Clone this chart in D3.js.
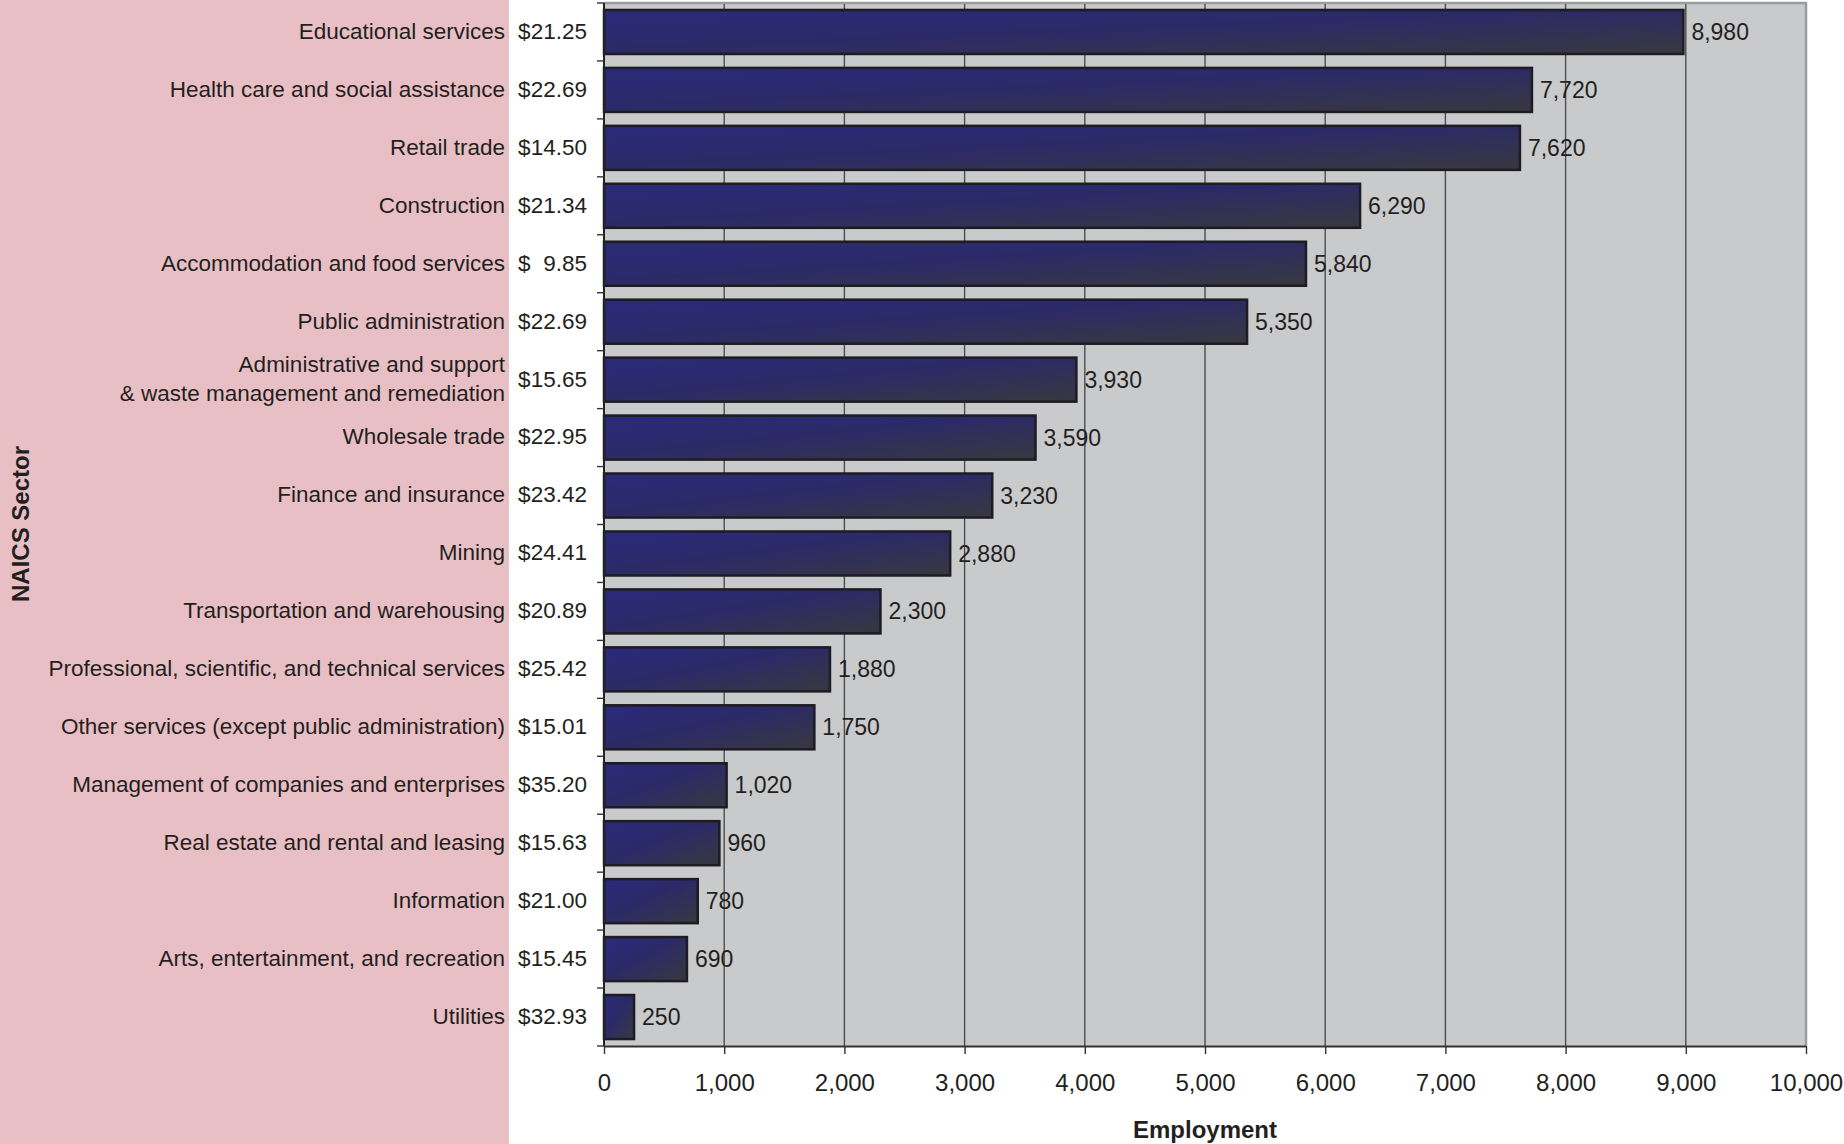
<!DOCTYPE html>
<html><head><meta charset="utf-8">
<script src="https://cdn.jsdelivr.net/npm/d3@7"></script>
<style>
html,body{margin:0;padding:0;background:#fff;}
svg{display:block;font-family:"Liberation Sans",Arial,sans-serif;}
</style></head>
<body>
<svg id="chart" width="1844" height="1144"></svg>
<script>
const categories = [
  ["Educational services"],
  ["Health care and social assistance"],
  ["Retail trade"],
  ["Construction"],
  ["Accommodation and food services"],
  ["Public administration"],
  ["Administrative and support", "& waste management and remediation"],
  ["Wholesale trade"],
  ["Finance and insurance"],
  ["Mining"],
  ["Transportation and warehousing"],
  ["Professional, scientific, and technical services"],
  ["Other services (except public administration)"],
  ["Management of companies and enterprises"],
  ["Real estate and rental and leasing"],
  ["Information"],
  ["Arts, entertainment, and recreation"],
  ["Utilities"]
];
const wages = ["21.25","22.69","14.50","21.34","9.85","22.69","15.65","22.95","23.42","24.41","20.89","25.42","15.01","35.20","15.63","21.00","15.45","32.93"];
const employment = [8980,7720,7620,6290,5840,5350,3930,3590,3230,2880,2300,1880,1750,1020,960,780,690,250];
const xTicks = [0,1000,2000,3000,4000,5000,6000,7000,8000,9000,10000];

const svg = d3.select("#chart");
const W = 1844, H = 1144;
const plot = {left: 604, right: 1806, top: 3, bottom: 1046};
const textColor = "#231f20";

// pink panel
svg.append("rect").attr("x",0).attr("y",0).attr("width",509).attr("height",H).attr("fill","#e9bfc6");

const x = d3.scaleLinear().domain([0,10000]).range([plot.left, plot.right]);
const idx = d3.range(categories.length);
const y = d3.scaleBand().domain(idx).range([plot.top, plot.bottom]).paddingInner(0.24).paddingOuter(0.12);
const yb = d3.scaleBand().domain(idx).range([plot.top, plot.bottom]);

// plot background
svg.append("rect").attr("x",plot.left).attr("y",plot.top).attr("width",plot.right-plot.left).attr("height",plot.bottom-plot.top).attr("fill","#c9cacc");

// border top/right
svg.append("path").attr("d",`M${plot.left},${plot.top}H${plot.right}V${plot.bottom}`).attr("fill","none").attr("stroke","#9b9c9e").attr("stroke-width",2.5);

// gridlines
svg.append("g").selectAll("line").data(xTicks.slice(1,-1)).join("line")
  .attr("x1",d=>x(d)).attr("x2",d=>x(d)).attr("y1",plot.top+1).attr("y2",plot.bottom)
  .attr("stroke","#4d4d4f").attr("stroke-width",1.4);

// gradient
const defs = svg.append("defs");
const grad = defs.append("linearGradient").attr("id","barGrad").attr("x1",0).attr("y1",0).attr("x2",1).attr("y2",1);
grad.append("stop").attr("offset","0%").attr("stop-color","#2a2a7a");
grad.append("stop").attr("offset","45%").attr("stop-color","#2b2a68");
grad.append("stop").attr("offset","100%").attr("stop-color","#38383e");

// bars
svg.append("g").selectAll("rect").data(idx).join("rect")
  .attr("x",x(0)).attr("y",i=>y(i))
  .attr("width",i=>x(employment[i])-x(0)).attr("height",y.bandwidth())
  .attr("fill","url(#barGrad)").attr("stroke","#1e1c22").attr("stroke-width",2.5);

// value labels
svg.append("g").selectAll("text").data(idx).join("text")
  .attr("x",i=>x(employment[i])+8).attr("y",i=>yb(i)+yb.bandwidth()/2)
  .attr("dy","0.35em").attr("font-size",23).attr("fill",textColor)
  .text(i=>d3.format(",")(employment[i]));

// x axis
const xAxis = d3.axisBottom(x).tickValues(xTicks).tickFormat(d3.format(",")).tickSize(8).tickPadding(20);
const gx = svg.append("g").attr("transform",`translate(0,${plot.bottom})`).call(xAxis);
gx.select(".domain").attr("stroke","#333").attr("stroke-width",2).attr("d",`M${plot.left},0.5H${plot.right}`);
gx.selectAll(".tick line").attr("stroke","#333").attr("stroke-width",1.4);
gx.selectAll(".tick text").attr("font-size",24).attr("fill",textColor).attr("font-family","Liberation Sans, Arial, sans-serif");

// y axis line and ticks at band boundaries
svg.append("line").attr("x1",plot.left).attr("x2",plot.left).attr("y1",plot.top).attr("y2",plot.bottom).attr("stroke","#222").attr("stroke-width",2);
svg.append("g").selectAll("line").data(d3.range(categories.length+1)).join("line")
  .attr("x1",plot.left-7).attr("x2",plot.left)
  .attr("y1",i=>i<categories.length?yb(i):plot.bottom).attr("y2",i=>i<categories.length?yb(i):plot.bottom)
  .attr("stroke","#333").attr("stroke-width",1.4);

// category labels
const catG = svg.append("g").attr("font-size",22.5).attr("fill",textColor);
idx.forEach(i=>{
  const lines = categories[i];
  const cy = yb(i)+yb.bandwidth()/2 - 1;
  const lh = 29;
  lines.forEach((ln,k)=>{
    catG.append("text").attr("x",505).attr("y",cy+(k-(lines.length-1)/2)*lh)
      .attr("dy","0.35em").attr("text-anchor","end").text(ln);
  });
  catG.append("text").attr("x",518).attr("y",cy).attr("dy","0.35em").text("$");
  catG.append("text").attr("x",587).attr("y",cy).attr("dy","0.35em").attr("text-anchor","end").text(wages[i]);
});

// axis titles
svg.append("text").attr("x",(plot.left+plot.right)/2).attr("y",1130).attr("dy","0.35em")
  .attr("text-anchor","middle").attr("font-size",24).attr("font-weight","bold").attr("fill",textColor).text("Employment");
svg.append("text").attr("transform","translate(21,524) rotate(-90)").attr("dy","0.35em")
  .attr("text-anchor","middle").attr("font-size",24).attr("font-weight","bold").attr("fill",textColor).text("NAICS Sector");
</script>
</body></html>
